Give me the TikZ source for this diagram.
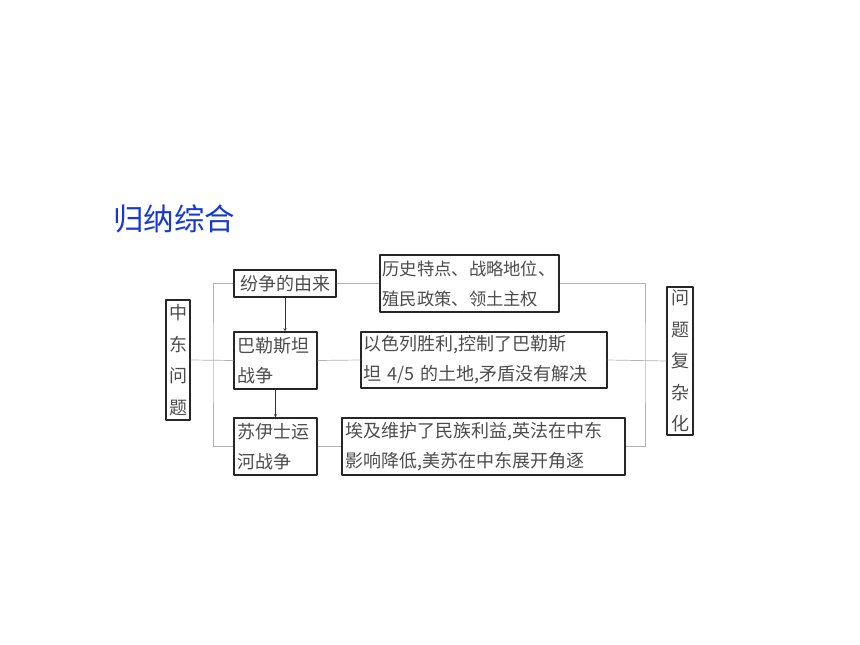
\documentclass[tikz,border=0pt]{standalone}
\usepackage{fontspec}
\newfontfamily\cjk{Noto Sans CJK SC}
\definecolor{titleblue}{RGB}{24,56,214}
\tikzset{
  box/.style={draw=black!85, line width=1.1pt, inner sep=0pt, text=black!70,
    font=\cjk\fontsize{18}{30}\selectfont, align=left},
  vbox/.style={box, align=center, font=\cjk\fontsize{18}{31.5}\selectfont},
  link/.style={draw=black!30, line width=0.7pt},
}
\begin{document}
\begin{tikzpicture}[x=1pt, y=-1pt, line join=round, >=stealth]
  \useasboundingbox (0,0) rectangle (860,645);
  \node[text=titleblue, font=\cjk\fontsize{30.5}{32}\selectfont] (gn) at (174,219) {归纳综合};
  % left column
  \node[vbox, minimum width=24, minimum height=120] (zd) at (178,360) {中\\东\\问\\题};
  \node[box, minimum width=102, minimum height=27, align=center] (jf) at (285,283.5) {纷争的由来};
  \node[box, minimum width=83, minimum height=57, text width=77] (bl) at (275.5,360.5) {巴勒斯坦\\战争};
  \node[box, minimum width=83, minimum height=57, text width=77] (sy) at (275.5,446.5) {苏伊士运\\河战争};
  % right column
  \node[box, minimum width=179, minimum height=57, text width=174, font=\cjk\fontsize{17.3}{30}\selectfont] (ls) at (469.5,283.5) {历史特点、战略地位、\\殖民政策、领土主权};
  \node[box, minimum width=246, minimum height=56, text width=241] (ys) at (484,360) {以色列胜利,控制了巴勒斯\\坦 4/5 的土地,矛盾没有解决};
  \node[box, minimum width=283, minimum height=57, text width=277] (aj) at (483.5,446.5) {埃及维护了民族利益,英法在中东\\影响降低,美苏在中东展开角逐};
  \node[vbox, minimum width=26, minimum height=148] (wt) at (680,361) {问\\题\\复\\杂\\化};
  % connectors
  \coordinate (lk) at (213,360);
  \coordinate (rk) at (645,360);
  \draw[link] (jf.west) -| (lk) |- (sy.west);
  \draw[link] (zd.east) -- (bl.west);
  \draw[link] (jf.east) -- (ls.west);
  \draw[link] (bl.east) -- (ys.west);
  \draw[link] (sy.east) -- (aj.west);
  \draw[link] (ls.east) -| (rk) |- (aj.east);
  \draw[link] (ys.east) -- (wt.west);
  \draw[->, black!80, line width=0.5pt] (jf.south) -- (jf.south |- bl.north);
  \draw[->, black!80, line width=0.5pt] (bl.south) -- (sy.north);
\end{tikzpicture}
\end{document}
